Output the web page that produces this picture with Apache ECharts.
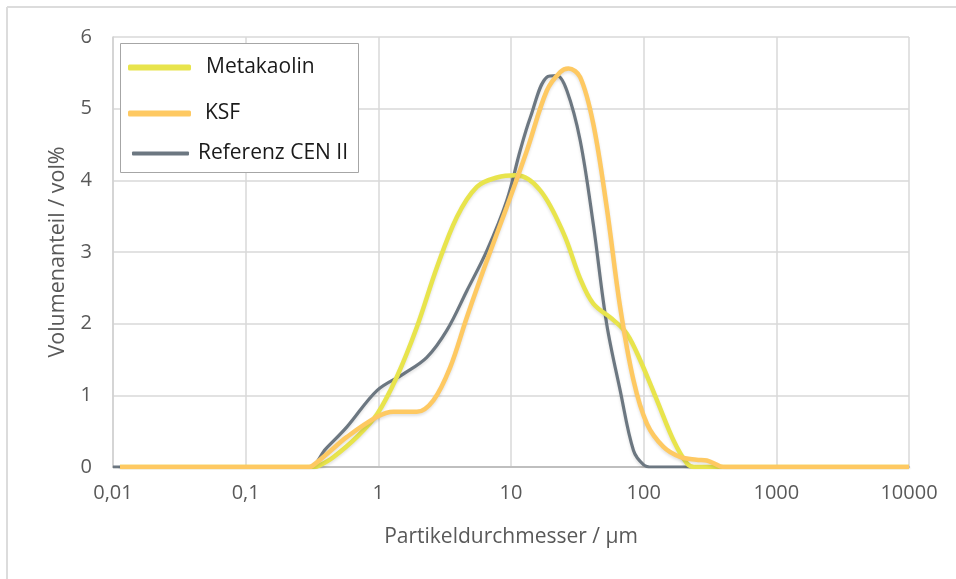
<!DOCTYPE html>
<html>
<head>
<meta charset="utf-8">
<script src="https://cdn.jsdelivr.net/npm/echarts@6/dist/echarts.min.js"></script>
<style>html,body{margin:0;padding:0;background:#fff}#c{width:956px;height:579px}</style>
</head>
<body>
<div id="c"></div>
<script>
var xTicks = [0.01, 0.1, 1, 10, 100, 1000, 10000];
var xTickLabels = ['0,01', '0,1', '1', '10', '100', '1000', '10000'];
var seriesNames = ['Metakaolin', 'KSF', 'Referenz CEN II'];

var metakaolin = [[0.0113,0],[0.33,0],[0.36,0.02],[0.46,0.14],[0.69,0.42],[0.98,0.74],[1.38,1.26],[1.95,1.95],[2.77,2.79],[3.91,3.49],[5.53,3.91],[7.83,4.04],[11.0,4.07],[16.6,3.86],[24.9,3.26],[33.2,2.63],[41.7,2.28],[59.2,2.05],[74.7,1.86],[94.2,1.49],[126,0.93],[168,0.37],[212,0.05],[240,0],[10000,0]];
var ksf = [[0.0113,0],[0.3,0],[0.32,0.02],[0.42,0.2],[0.58,0.42],[0.98,0.70],[1.3,0.77],[1.95,0.77],[2.6,0.93],[3.48,1.39],[4.65,2.09],[6.58,2.88],[9.3,3.63],[13.2,4.42],[18.6,5.25],[23.5,5.51],[27.1,5.56],[33.2,5.44],[41.7,4.79],[52.6,3.63],[66.5,2.23],[83.8,1.21],[106,0.6],[141,0.28],[188,0.14],[250,0.1],[299,0.09],[377,0.01],[420,0],[10000,0]];
var referenz = [[0.01,0],[0.3,0],[0.4,0.25],[0.58,0.56],[0.98,1.07],[1.55,1.30],[2.32,1.53],[3.29,1.91],[4.65,2.46],[6.58,3.02],[9.3,3.72],[11.7,4.41],[14,4.88],[18.6,5.44],[22.2,5.46],[26.4,5.25],[33.2,4.56],[41.7,3.39],[52.6,2.0],[66.5,1.07],[83.8,0.23],[100,0.03],[115,0],[10000,0]];

var colors = ['#E8E44C', '#FEC962', '#6C7781'];
var font = 'Open Sans';
var chart = echarts.init(document.getElementById('c'));

function legendItem(name, top, left, w, h, gap) {
  return {
    data: [name], orient: 'vertical', left: left, top: top, padding: 0,
    icon: 'roundRect', itemWidth: w, itemHeight: h,
    selectedMode: false,
    textStyle: { fontFamily: font, fontSize: 21, color: '#1a1a1a', padding: [0, 0, 0, gap] }
  };
}

function lineSeries(i, data, width, z) {
  return {
    name: seriesNames[i], type: 'line', data: data, smooth: 0.35, showSymbol: false, z: z, color: colors[i],
    lineStyle: { width: width, color: colors[i], shadowColor: 'rgba(0,0,0,0.12)', shadowBlur: 3, shadowOffsetY: 2 }
  };
}

chart.setOption({
  animation: false,
  backgroundColor: '#fff',
  graphic: [
    { type: 'line', z: 0, shape: { x1: 7, y1: 7, x2: 956, y2: 7 }, style: { stroke: '#dcdcdc', lineWidth: 2 } },
    { type: 'line', z: 0, shape: { x1: 7, y1: 7, x2: 7, y2: 579 }, style: { stroke: '#dcdcdc', lineWidth: 2 } },
    { type: 'rect', z: 3, shape: { x: 120.5, y: 43.5, width: 238, height: 129 }, style: { fill: '#fff', stroke: '#a6a6a6', lineWidth: 1 } }
  ],
  legend: [
    legendItem(seriesNames[0], 57, 128, 63, 6, 10),
    legendItem(seriesNames[1], 103, 128, 63, 6, 9),
    legendItem(seriesNames[2], 143, 132, 57, 4, 4)
  ],
  grid: { left: 113, top: 37, width: 796, height: 430 },
  xAxis: {
    type: 'log', logBase: 10, min: xTicks[0], max: xTicks[xTicks.length - 1],
    name: 'Partikeldurchmesser / µm', nameLocation: 'middle', nameGap: 60,
    nameTextStyle: { fontFamily: font, fontSize: 21, color: '#595959' },
    axisLine: { lineStyle: { color: '#bfbfbf', width: 2 } },
    axisTick: { show: false },
    splitLine: { show: true, lineStyle: { color: '#d9d9d9', width: 1.5 } },
    axisLabel: {
      fontFamily: font, fontSize: 20, color: '#595959', margin: 16,
      formatter: function (v) {
        for (var i = 0; i < xTicks.length; i++) { if (Math.abs(Math.log10(v) - Math.log10(xTicks[i])) < 1e-6) return xTickLabels[i]; }
        return '';
      }
    }
  },
  yAxis: {
    type: 'value', min: 0, max: 6, interval: 1,
    name: 'Volumenanteil / vol%', nameLocation: 'middle', nameGap: 44,
    nameTextStyle: { fontFamily: font, fontSize: 21.5, color: '#595959' },
    axisLine: { show: true, lineStyle: { color: '#d0d0d0', width: 1.5 } },
    axisTick: { show: false },
    splitLine: { show: true, lineStyle: { color: '#d9d9d9', width: 1.5 } },
    axisLabel: { fontFamily: font, fontSize: 20, color: '#595959', margin: 21 }
  },
  series: [
    lineSeries(0, metakaolin, 4.5, 3),
    lineSeries(1, ksf, 4.5, 4),
    lineSeries(2, referenz, 3.2, 2)
  ]
});
</script>
</body>
</html>
